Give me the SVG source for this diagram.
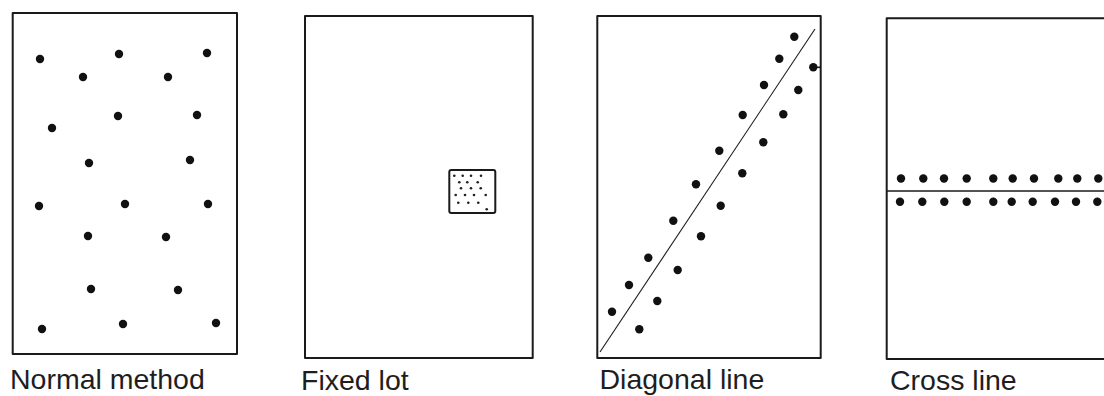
<svg xmlns="http://www.w3.org/2000/svg" width="1104" height="396" viewBox="0 0 1104 396">
<style>
.frame{fill:none;stroke:#1a1a1a;stroke-width:2;stroke-linejoin:round}
.dot{fill:#111}
.sdot{fill:#222}
.lbl{font-family:"Liberation Sans",Arial,sans-serif;font-size:28.5px;fill:#1e1e1e}
.thin{stroke:#1a1a1a;stroke-width:1.1;fill:none}
</style>
<defs>
<circle id="d" r="4.2" class="dot"/>
<circle id="s" r="1.3" class="sdot"/>
</defs>
<rect width="1104" height="396" fill="#fff"/>

<g id="normal-method">
<rect class="frame" x="12.7" y="13" width="224.3" height="341"/>
<use href="#d" x="40" y="59"/><use href="#d" x="119" y="54"/><use href="#d" x="207" y="53"/>
<use href="#d" x="83" y="77"/><use href="#d" x="168" y="77"/>
<use href="#d" x="52" y="128"/><use href="#d" x="118" y="116"/><use href="#d" x="197" y="115"/>
<use href="#d" x="89" y="163"/><use href="#d" x="190" y="160"/>
<use href="#d" x="39" y="206"/><use href="#d" x="125" y="204"/><use href="#d" x="208" y="204"/>
<use href="#d" x="88" y="236"/><use href="#d" x="166" y="237"/>
<use href="#d" x="91" y="289"/><use href="#d" x="178" y="290"/>
<use href="#d" x="42" y="329"/><use href="#d" x="123" y="324"/><use href="#d" x="216" y="323"/>
<text class="lbl" x="10" y="389">Normal method</text>
</g>

<g id="fixed-lot">
<rect class="frame" x="305" y="16" width="227.7" height="342"/>
<rect class="frame" x="449.3" y="170" width="46" height="43" rx="2"/>
<use href="#s" x="454.3" y="175.7"/><use href="#s" x="462.7" y="175.7"/><use href="#s" x="471" y="175.7"/><use href="#s" x="481" y="175.7"/>
<use href="#s" x="459.3" y="182.3"/><use href="#s" x="467.3" y="182.3"/><use href="#s" x="477.7" y="182.3"/>
<use href="#s" x="461" y="188.3"/><use href="#s" x="471" y="188.3"/><use href="#s" x="480.7" y="188.3"/>
<use href="#s" x="455.7" y="195"/><use href="#s" x="465" y="195"/><use href="#s" x="474" y="195"/><use href="#s" x="485.7" y="195"/>
<use href="#s" x="458.3" y="202.7"/><use href="#s" x="468.3" y="202.7"/><use href="#s" x="478.3" y="202.7"/>
<use href="#s" x="486.7" y="209.3"/>
<text class="lbl" x="301" y="390">Fixed lot</text>
</g>

<g id="diagonal-line">
<rect class="frame" x="597.3" y="16" width="223.4" height="342"/>
<line class="thin" x1="600" y1="352" x2="815" y2="29"/>
<line class="thin" x1="813" y1="67.3" x2="820.7" y2="67.3" style="stroke-width:1.6"/>
<use href="#d" x="794.3" y="36.7"/><use href="#d" x="779.3" y="58.7"/><use href="#d" x="813.3" y="67.3"/>
<use href="#d" x="764" y="85"/><use href="#d" x="798.3" y="90"/>
<use href="#d" x="742.7" y="115"/><use href="#d" x="783.3" y="114.3"/>
<use href="#d" x="763.3" y="142.3"/><use href="#d" x="719.3" y="150.7"/>
<use href="#d" x="742.3" y="173.3"/><use href="#d" x="696" y="184.3"/>
<use href="#d" x="720.7" y="205.7"/><use href="#d" x="673.3" y="220.7"/>
<use href="#d" x="701" y="236.3"/><use href="#d" x="648.3" y="257.7"/>
<use href="#d" x="677.7" y="270"/><use href="#d" x="629" y="285"/>
<use href="#d" x="657.3" y="301"/><use href="#d" x="612" y="311.7"/>
<use href="#d" x="639.3" y="329.3"/>
<text class="lbl" x="599.5" y="389">Diagonal line</text>
</g>

<g id="cross-line">
<path class="frame" d="M1110 18.3 H886.7 V359 H1110"/>
<line class="thin" x1="886.7" y1="191" x2="1104" y2="191" style="stroke-width:1.5"/>
<use href="#d" x="901" y="178.5"/><use href="#d" x="923.3" y="178.5"/><use href="#d" x="944" y="178.5"/><use href="#d" x="966.7" y="178.5"/><use href="#d" x="993.3" y="178.5"/>
<use href="#d" x="1012.7" y="178.5"/><use href="#d" x="1034" y="178.5"/><use href="#d" x="1058.3" y="178.5"/><use href="#d" x="1077.3" y="178.5"/><use href="#d" x="1098.3" y="178.5"/>
<use href="#d" x="900" y="201.7"/><use href="#d" x="922.3" y="201.7"/><use href="#d" x="944.3" y="201.7"/><use href="#d" x="966.7" y="201.7"/><use href="#d" x="993.3" y="201.7"/>
<use href="#d" x="1011.7" y="201.7"/><use href="#d" x="1032.7" y="201.7"/><use href="#d" x="1055" y="201.7"/><use href="#d" x="1076" y="201.7"/><use href="#d" x="1097.3" y="201.7"/>
<text class="lbl" x="890" y="390">Cross line</text>
</g>

<g id="connectors"/>
</svg>
